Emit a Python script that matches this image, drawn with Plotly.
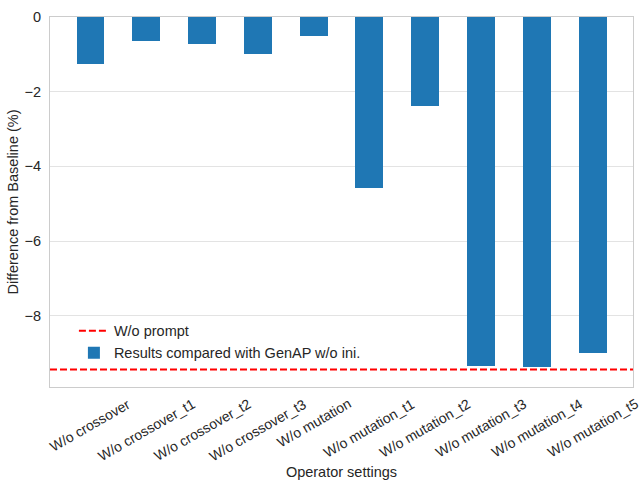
import plotly.graph_objects as go

categories = ["W/o crossover", "W/o crossover_t1", "W/o crossover_t2", "W/o crossover_t3",
              "W/o mutation", "W/o mutation_t1", "W/o mutation_t2", "W/o mutation_t3",
              "W/o mutation_t4", "W/o mutation_t5"]
diff_values = [-1.26, -0.64, -0.71, -0.99, -0.51, -4.59, -2.39, -9.34, -9.37, -8.99]
prompt_value = -9.44
y_ticks = [0, -2, -4, -6, -8]

FONT = "Liberation Sans, Arial, sans-serif"
TXT = "#262626"
FS = 14.5
FS_TICK = 14.0

fig = go.Figure()

# legend entry for the dashed reference line
fig.add_trace(go.Scatter(
    x=[None], y=[None], mode="lines", name="W/o prompt",
    line=dict(color="red", width=2, dash="7px,3px"),
))
fig.add_trace(go.Bar(
    x=categories, y=diff_values, width=0.5, name="Results compared with GenAP w/o ini.",
    marker=dict(color="#1f77b4", line=dict(width=0)),
))

fig.add_shape(type="line", xref="x domain", x0=0, x1=1, yref="y", y0=prompt_value, y1=prompt_value,
              line=dict(color="red", width=2, dash="7px,3px"), layer="above")

for c in categories:
    fig.add_annotation(x=c, xref="x", y=0, yref="paper", text=c, showarrow=False,
                       textangle=-30, xanchor="center", yanchor="top", yshift=-6,
                       font=dict(family=FONT, size=FS_TICK, color=TXT))

fig.update_layout(
    width=640, height=481,
    margin=dict(l=50, r=7, t=17, b=94, autoexpand=False),
    paper_bgcolor="white", plot_bgcolor="white",
    font=dict(family=FONT, size=FS, color=TXT),
    showlegend=True,
    legend=dict(x=0.041, y=0.195, xanchor="left", yanchor="top", bgcolor="rgba(0,0,0,0)",
                font=dict(family=FONT, size=FS, color=TXT), tracegroupgap=0),
    bargap=0,
    hovermode=False,
)
fig.update_xaxes(
    type="category", range=[-0.725, 9.725], showticklabels=False, ticks="", automargin=False,
    showgrid=False, showline=True, linecolor="#cccccc", linewidth=1.25, mirror=True,
    title=dict(text="Operator settings", standoff=79, font=dict(family=FONT, size=FS, color=TXT)),
)
fig.update_yaxes(
    range=[-9.91, 0], tickvals=y_ticks, ticks="", ticklabelstandoff=5, automargin=False,
    showgrid=True, gridcolor="#e3e3e3", gridwidth=1, zeroline=False,
    showline=True, linecolor="#cccccc", linewidth=1.25, mirror=True,
    title=dict(text="Difference from Baseline (%)", standoff=2, font=dict(family=FONT, size=FS, color=TXT)),
)

fig.write_html("out.html", config={"displayModeBar": False},
               post_script="document.body.style.margin='0';document.body.style.overflow='hidden';")
